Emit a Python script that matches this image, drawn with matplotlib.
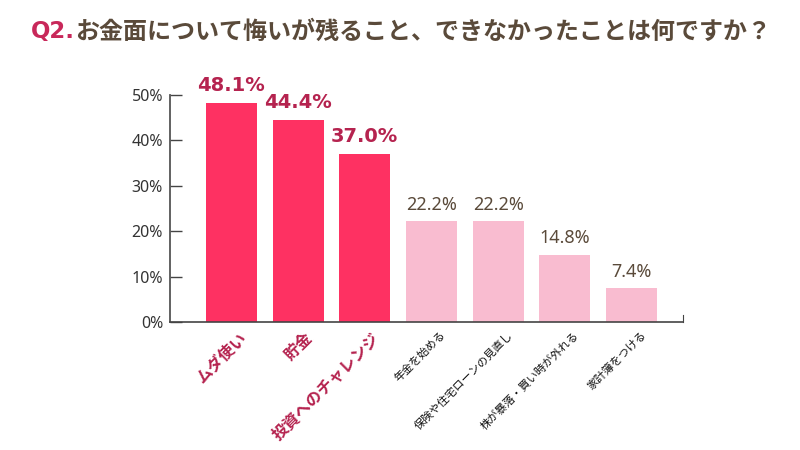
import matplotlib.pyplot as plt
from matplotlib.ticker import FuncFormatter

plt.rcParams['font.family'] = ['Noto Sans CJK JP', 'DejaVu Sans']

categories = ["ムダ使い", "貯金", "投資へのチャレンジ", "年金を始める",
              "保険や住宅ローンの見直し", "株が暴落・買い時が外れる", "家計簿をつける"]
values = [48.1, 44.4, 37.0, 22.2, 22.2, 14.8, 7.4]
value_labels = ["48.1%", "44.4%", "37.0%", "22.2%", "22.2%", "14.8%", "7.4%"]
highlight = [True, True, True, False, False, False, False]

strong = "#fe3162"
light = "#f9bcd0"
accent = "#b5234f"
brown = "#5a4a3a"

fig = plt.figure(figsize=(8, 4.5), dpi=100)
ax = fig.add_axes([0.2125, 0.2844, 0.6413, 0.505])

x = list(range(len(values)))
colors = [strong if h else light for h in highlight]
ax.bar(x, values, width=0.765, color=colors, zorder=2)

for xi, v, lab, h in zip(x, values, value_labels, highlight):
    if h:
        ax.text(xi, v + 1.8, lab, ha="center", va="bottom", fontsize=14,
                fontweight="bold", color=accent, family=["DejaVu Sans"], clip_on=False)
    else:
        ax.text(xi, v + 1.6, lab, ha="center", va="bottom", fontsize=13,
                color=brown, family=["Noto Sans"], clip_on=False)

ax.set_xlim(-0.92, 6.77)
ax.set_ylim(0, 50)
ax.set_yticks([0, 10, 20, 30, 40, 50])
ax.yaxis.set_major_formatter(FuncFormatter(lambda v, p: f"{v:.0f}%"))
ax.tick_params(axis="y", direction="in", length=8.5, width=1, color="#444",
               labelsize=11.5, labelcolor="#333", pad=5)
for t in ax.get_yticklabels():
    t.set_family(["Noto Sans"])
ax.set_xticks([])

ax.spines["top"].set_visible(False)
ax.spines["left"].set_color("#555")
ax.spines["left"].set_linewidth(1.3)
ax.spines["bottom"].set_color("#444")
ax.spines["bottom"].set_linewidth(1.2)
ax.spines["right"].set_bounds(0, 1.5)
ax.spines["right"].set_color("#444")

# rotated category labels
for xi, cat, h in zip(x, categories, highlight):
    if h:
        ax.text(xi + 0.1, -1.6, cat, rotation=45, rotation_mode="anchor",
                ha="right", va="top", fontsize=11.5, fontweight="bold",
                color=accent, clip_on=False)
    else:
        ax.text(xi + 0.13, -1.6, cat, rotation=45, rotation_mode="anchor",
                ha="right", va="top", fontsize=8, color="#111", clip_on=False)

fig.text(0.038, 0.93, "Q2.", fontsize=16.5, fontweight="bold", color="#c8285a",
         family=["DejaVu Sans"], va="center", ha="left")
fig.text(0.094, 0.93, "お金面について悔いが残ること、できなかったことは何ですか？",
         fontsize=17.3, fontweight="bold", color=brown, va="center", ha="left")

fig.savefig("out.png", dpi=100)
